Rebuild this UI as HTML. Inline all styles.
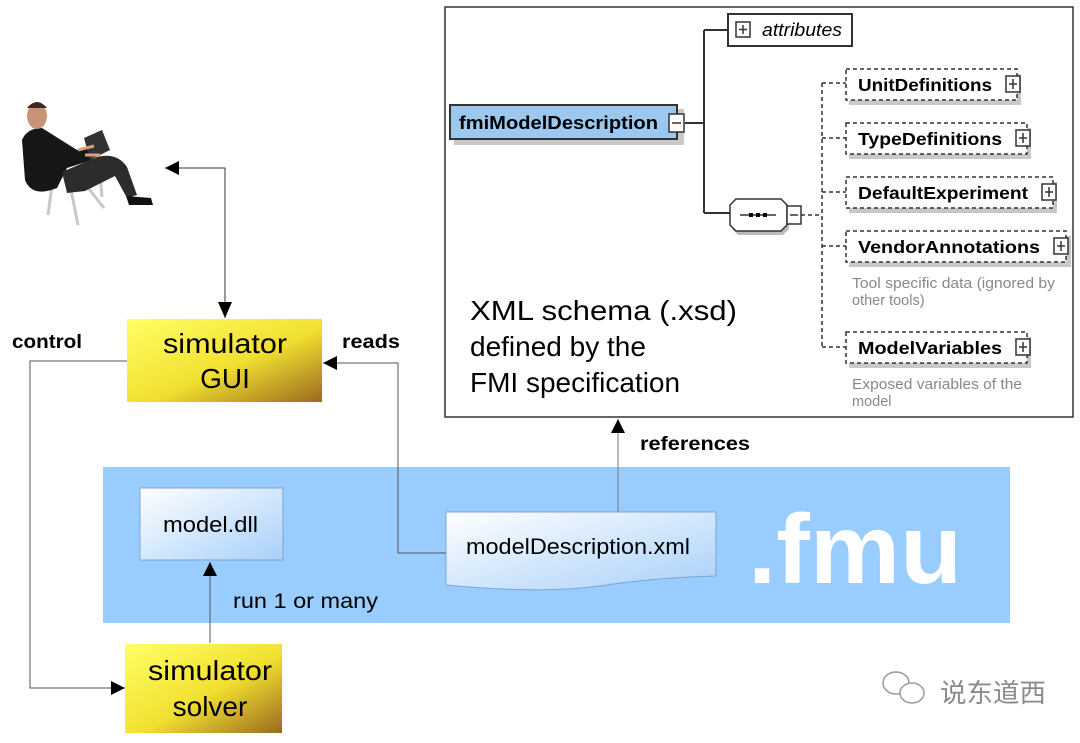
<!DOCTYPE html>
<html><head><meta charset="utf-8"><style>
body{margin:0;background:#fff;width:1080px;height:738px;overflow:hidden}
svg text{font-family:"Liberation Sans","DejaVu Sans",sans-serif}
</style></head><body>
<svg width="1080" height="738" viewBox="0 0 1080 738" xmlns="http://www.w3.org/2000/svg">
<defs>
<linearGradient id="yel" x1="0" y1="0" x2="1" y2="1">
<stop offset="0" stop-color="#ffff66"/><stop offset="0.55" stop-color="#f2e030"/><stop offset="1" stop-color="#9a6a20"/></linearGradient>
<linearGradient id="bl" x1="0" y1="0" x2="1" y2="1">
<stop offset="0" stop-color="#ffffff"/><stop offset="1" stop-color="#a8d0fa"/></linearGradient>
<marker id="ah2" viewBox="0 0 10 10" refX="10" refY="5" markerWidth="20" markerHeight="14" markerUnits="userSpaceOnUse" orient="auto"><path d="M0,0L10,5L0,10z" fill="#000"/></marker>
</defs>

<rect x="445" y="7" width="628" height="410" fill="#fff" stroke="#333" stroke-width="1.5"/>
<path d="M685,123H704M704,30V213M704,30H728M704,213H730" stroke="#333" stroke-width="2" fill="none"/>
<rect x="454" y="109" width="230" height="36" fill="#c8c8c8"/>
<rect x="450" y="105" width="227" height="34" fill="#9cc8f0" stroke="#333" stroke-width="2"/>
<text x="459" y="129" font-size="18" font-weight="bold" fill="#000" textLength="199" lengthAdjust="spacingAndGlyphs">fmiModelDescription</text>
<rect x="669" y="114" width="15" height="18" fill="#fff" stroke="#333" stroke-width="1.5"/>
<line x1="672" y1="123" x2="681" y2="123" stroke="#333" stroke-width="1.5"/>
<rect x="728" y="14" width="124" height="32" fill="#fff" stroke="#333" stroke-width="2"/>
<rect x="736" y="22" width="14" height="15" fill="#fff" stroke="#333" stroke-width="1.5"/>
<path d="M739,29.5H747M743,25V34" stroke="#333" stroke-width="1.5"/>
<text x="762" y="36" font-size="18" font-style="italic" fill="#000" textLength="80" lengthAdjust="spacingAndGlyphs">attributes</text>
<path d="M738,203h45l6,6v20l-6,6h-45l-6,-6v-20z" fill="#bbb"/>
<path d="M736,199h45l6,6v20l-6,6h-45l-6,-6v-20z" fill="#fff" stroke="#333" stroke-width="1.5"/>
<line x1="740" y1="215" x2="776" y2="215" stroke="#333" stroke-width="1.5"/>
<rect x="749" y="213" width="4" height="4" fill="#000"/><rect x="756" y="213" width="4" height="4" fill="#000"/><rect x="763" y="213" width="4" height="4" fill="#000"/>
<rect x="787" y="206" width="14" height="18" fill="#fff" stroke="#333" stroke-width="1.5"/>
<line x1="790" y1="215" x2="798" y2="215" stroke="#333" stroke-width="1.5"/>
<g stroke="#333" stroke-width="1.5" stroke-dasharray="4,3" fill="none">
<path d="M801,215H822M822,83V347M822,83H846M822,138H846M822,192H846M822,246H846M822,347H846"/>
</g>
<g font-size="17.5" font-weight="bold" fill="#000">
<rect x="849" y="74" width="172" height="31" fill="#c8c8c8"/>
<rect x="846" y="69" width="171" height="31" fill="#fff" stroke="#333" stroke-width="1.5" stroke-dasharray="4,3"/>
<text x="858" y="91" textLength="134" lengthAdjust="spacingAndGlyphs">UnitDefinitions</text>
<rect x="849" y="128" width="182" height="31" fill="#c8c8c8"/>
<rect x="846" y="123" width="181" height="31" fill="#fff" stroke="#333" stroke-width="1.5" stroke-dasharray="4,3"/>
<text x="858" y="145" textLength="144" lengthAdjust="spacingAndGlyphs">TypeDefinitions</text>
<rect x="849" y="182" width="208" height="31" fill="#c8c8c8"/>
<rect x="846" y="177" width="207" height="31" fill="#fff" stroke="#333" stroke-width="1.5" stroke-dasharray="4,3"/>
<text x="858" y="199" textLength="170" lengthAdjust="spacingAndGlyphs">DefaultExperiment</text>
<rect x="849" y="236" width="222" height="31" fill="#c8c8c8"/>
<rect x="846" y="231" width="220" height="31" fill="#fff" stroke="#333" stroke-width="1.5" stroke-dasharray="4,3"/>
<text x="858" y="253" textLength="182" lengthAdjust="spacingAndGlyphs">VendorAnnotations</text>
<rect x="849" y="337" width="182" height="31" fill="#c8c8c8"/>
<rect x="846" y="332" width="181" height="31" fill="#fff" stroke="#333" stroke-width="1.5" stroke-dasharray="4,3"/>
<text x="858" y="354" textLength="144" lengthAdjust="spacingAndGlyphs">ModelVariables</text>
</g>
<g fill="#fff" stroke="#333" stroke-width="1.5">
<rect x="1006" y="76" width="14" height="16"/><rect x="1016" y="130" width="14" height="16"/>
<rect x="1042" y="184" width="14" height="16"/><rect x="1054" y="238" width="14" height="16"/>
<rect x="1016" y="339" width="14" height="16"/>
</g>
<g stroke="#333" stroke-width="1.5">
<path d="M1009,84h8M1013,79v10M1019,138h8M1023,133v10M1045,192h8M1049,187v10M1057,246h8M1061,241v10M1019,347h8M1023,342v10"/>
</g>
<g font-size="14.5" fill="#888">
<text x="852" y="288" textLength="203" lengthAdjust="spacingAndGlyphs">Tool specific data (ignored by</text>
<text x="852" y="305">other tools)</text>
<text x="852" y="389" textLength="170" lengthAdjust="spacingAndGlyphs">Exposed variables of the</text>
<text x="852" y="406">model</text>
</g>
<g font-size="28" fill="#000">
<text x="470" y="320" textLength="267" lengthAdjust="spacingAndGlyphs">XML schema (.xsd)</text>
<text x="470" y="356">defined by the</text>
<text x="470" y="392">FMI specification</text>
</g>

<!-- person -->
<g>
<path d="M52,185l-4,30M70,185l8,40M82,180l22,28M100,175l2,22" stroke="#c8c8c8" stroke-width="3"/>
<path d="M22,140q5,-12 20,-12l35,22l20,-2l-5,12l-25,8l-10,20q-25,10 -32,-8z" fill="#161616"/>
<path d="M62,172l35,-15q20,-5 30,10l10,28l-10,3l-12,-22l-30,15l-18,2z" fill="#2c2c2c"/>
<path d="M90,160l20,-10l-8,-20l-18,8z" fill="#333"/>
<path d="M78,150l16,-4M85,155l15,0" stroke="#d8a080" stroke-width="3"/>
<path d="M126,196l25,2l2,7l-24,0z" fill="#111"/>
<ellipse cx="37" cy="116" rx="10" ry="13" fill="#c89478"/>
<path d="M27,108q10,-12 20,0" fill="#3a2a20"/>
</g>

<path d="M225,318V168H165" stroke="#333" stroke-width="1" fill="none" marker-end="url(#ah2)"/>
<path d="M218,302L225,318L232,302z" fill="#000"/>

<rect x="103" y="467" width="907" height="156" fill="#99ccff"/>
<text x="748" y="583" font-size="98" font-weight="bold" fill="#fff" textLength="214" lengthAdjust="spacingAndGlyphs">.fmu</text>
<rect x="140" y="488" width="143" height="72" fill="url(#bl)" stroke="#7ea6d0" stroke-width="1"/>
<text x="163" y="532" font-size="22" fill="#000" textLength="95" lengthAdjust="spacingAndGlyphs">model.dll</text>
<path d="M446,512H716V576Q650,578 600,586Q540,594 446,585Z" fill="url(#bl)" stroke="#7ea6d0" stroke-width="1"/>
<text x="466" y="554" font-size="22" fill="#000" textLength="224" lengthAdjust="spacingAndGlyphs">modelDescription.xml</text>

<rect x="127" y="319" width="195" height="83" fill="url(#yel)"/>
<text x="225" y="353" font-size="28" text-anchor="middle" fill="#000" textLength="124" lengthAdjust="spacingAndGlyphs">simulator</text>
<text x="225" y="388" font-size="28" text-anchor="middle" fill="#000">GUI</text>
<rect x="125" y="644" width="157" height="89" fill="url(#yel)"/>
<text x="210" y="680" font-size="28" text-anchor="middle" fill="#000" textLength="124" lengthAdjust="spacingAndGlyphs">simulator</text>
<text x="210" y="716" font-size="28" text-anchor="middle" fill="#000">solver</text>

<path d="M127,361H30V688H125" stroke="#555" stroke-width="1" fill="none" marker-end="url(#ah2)"/>
<path d="M446,553H398V363H323" stroke="#555" stroke-width="1" fill="none" marker-end="url(#ah2)"/>
<path d="M210,643V562" stroke="#555" stroke-width="1" fill="none" marker-end="url(#ah2)"/>
<path d="M618,512V419" stroke="#777" stroke-width="1" fill="none" marker-end="url(#ah2)"/>

<g font-size="19" font-weight="bold" fill="#000">
<text x="12" y="348" textLength="70" lengthAdjust="spacingAndGlyphs">control</text>
<text x="342" y="348" textLength="58" lengthAdjust="spacingAndGlyphs">reads</text>
<text x="640" y="450" textLength="110" lengthAdjust="spacingAndGlyphs">references</text>
</g>
<text x="233" y="608" font-size="21" fill="#000" textLength="145" lengthAdjust="spacingAndGlyphs">run 1 or many</text>

<g fill="none" stroke="#999" stroke-width="1.5">
<ellipse cx="896" cy="683" rx="13" ry="11"/><ellipse cx="912" cy="693" rx="12" ry="10" fill="#fff"/>
</g>
<text x="940" y="702" font-size="26" fill="#8a8a8a" font-family="'Noto Sans CJK SC',sans-serif" textLength="106" lengthAdjust="spacingAndGlyphs">说东道西</text>
</svg>
</body></html>
